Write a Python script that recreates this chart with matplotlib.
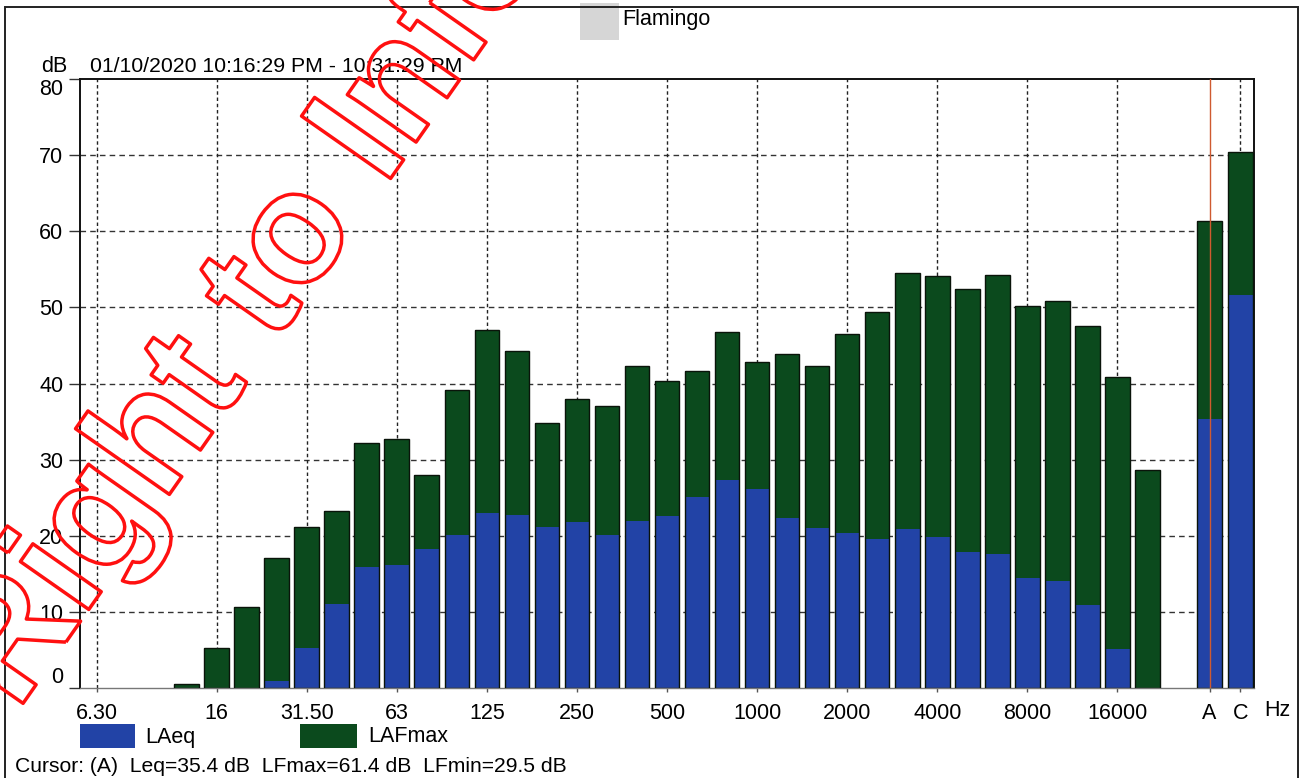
import numpy as np
import matplotlib
matplotlib.use("Agg")
import matplotlib.pyplot as plt
import matplotlib.patheffects as pe
from matplotlib.patches import Rectangle

plt.rcParams['font.family'] = ['Liberation Sans', 'DejaVu Sans']

# ---- data ----
bands = ["6.3", "8", "10", "12.5", "16", "20", "25", "31.5", "40", "50", "63", "80",
         "100", "125", "160", "200", "250", "315", "400", "500", "630", "800", "1000",
         "1250", "1600", "2000", "2500", "3150", "4000", "5000", "6300", "8000",
         "10000", "12500", "16000", "20000"]
lafmax = [np.nan, np.nan, np.nan, 0.5, 5.3, 10.7, 17.1, 21.2, 23.2, 32.2, 32.7, 28.0,
          39.1, 47.0, 44.3, 34.8, 38.0, 37.0, 42.3, 40.3, 41.7, 46.7, 42.8,
          43.9, 42.3, 46.5, 49.4, 54.5, 54.1, 52.4, 54.3, 50.2,
          50.9, 47.6, 40.9, 28.6]
laeq = [np.nan, np.nan, np.nan, np.nan, np.nan, np.nan, 0.9, 5.3, 11.0, 15.9, 16.1, 18.2,
        20.1, 23.0, 22.7, 21.1, 21.8, 20.1, 22.0, 22.6, 25.1, 27.3, 26.2,
        22.3, 21.0, 20.3, 19.6, 20.9, 19.8, 17.9, 17.6, 14.4,
        14.1, 10.9, 5.1, np.nan]
overall_labels = ["A", "C"]
overall_lafmax = [61.4, 70.4]
overall_laeq = [35.4, 51.6]
tick_labels = ["6.30", "16", "31.50", "63", "125", "250", "500", "1000", "2000",
               "4000", "8000", "16000"]
tick_bands = ["6.3", "16", "31.5", "63", "125", "250", "500", "1000", "2000",
              "4000", "8000", "16000"]
title_text = "01/10/2020 10:16:29 PM - 10:31:29 PM"
cursor_text = "Cursor: (A)  Leq=35.4 dB  LFmax=61.4 dB  LFmin=29.5 dB"
stamp_text = "Right to Information"

BLUE = "#2243a6"
GREEN = "#0b4a1d"
EDGE = "#0a140a"

W, H = 1306, 778
fig = plt.figure(figsize=(W / 100, H / 100), dpi=100)

def fx(px):
    return px / W

def fy(py):
    return 1 - py / H

ax = fig.add_axes([fx(80), fy(688), fx(1254) - fx(80), fy(79) - fy(688)])

xpos = np.array(list(np.arange(len(bands), dtype=float)) + [37.07, 38.1])
mx = np.array(lafmax + overall_lafmax, dtype=float)
eq = np.array(laeq + overall_laeq, dtype=float)
width = 0.82

eq_base = np.where(np.isnan(eq), 0, eq)
ax.bar(xpos, eq, width=width, color=BLUE, linewidth=0, zorder=2)
ax.bar(xpos, mx - eq_base, bottom=eq_base, width=width, color=GREEN, linewidth=0, zorder=2)
ax.bar(xpos, mx, width=width, facecolor='none', edgecolor=EDGE, linewidth=1.0, zorder=3)

ax.set_xlim(-0.55, 38.55)
ax.set_ylim(0, 80)

# grid
for v in range(10, 80, 10):
    ax.axhline(v, color='#333333', lw=1.0, ls=(0, (4, 3)), zorder=1)
grid_x = [bands.index(b) for b in tick_bands] + [xpos[-1]]
for gx in grid_x:
    ax.axvline(gx, color='#222222', lw=1.0, ls=(0, (2.5, 2)), zorder=1)

# cursor line at A
ax.axvline(xpos[-2], color='#cf5a30', lw=1.0, zorder=4)

# ticks
ax.set_yticks(range(0, 81, 10))
ax.set_yticklabels([str(v) for v in range(0, 81, 10)], fontsize=15.5)
ylabs = ax.get_yticklabels()
ylabs[0].set_va('bottom')
ylabs[-1].set_va('top')
ax.tick_params(axis='y', length=8, width=1, color='#333333', pad=4)

xt = [bands.index(b) for b in tick_bands] + list(xpos[-2:])
ax.set_xticks(xt)
ax.set_xticklabels(tick_labels + overall_labels, fontsize=15.5)
ax.tick_params(axis='x', length=3, width=1, color='#555555', pad=8)

for s in ['left', 'top', 'right']:
    ax.spines[s].set_color('#111111')
    ax.spines[s].set_linewidth(1.4)
ax.spines['bottom'].set_color('#777777')
ax.spines['bottom'].set_linewidth(1.0)

# texts
fig.text(fx(1277), fy(710), "Hz", fontsize=15.5, ha='center', va='center')
fig.text(fx(54), fy(66), "dB", fontsize=15.5, ha='center', va='center')
fig.text(fx(90), fy(66), title_text, fontsize=15.3, ha='left', va='center')

# top series box
fig.patches.append(Rectangle((fx(580), fy(40)), fx(619) - fx(580), fy(3) - fy(40),
                             transform=fig.transFigure, facecolor='#d6d6d6', edgecolor='none'))
fig.text(fx(622), fy(20), "Flamingo", fontsize=15.5, ha='left', va='center')

# legend
fig.patches.append(Rectangle((fx(80), fy(748)), fx(135) - fx(80), fy(724) - fy(748),
                             transform=fig.transFigure, facecolor=BLUE, edgecolor='none'))
fig.text(fx(145), fy(737), "LAeq", fontsize=15.5, ha='left', va='center')
fig.patches.append(Rectangle((fx(300), fy(748)), fx(357) - fx(300), fy(724) - fy(748),
                             transform=fig.transFigure, facecolor=GREEN, edgecolor='none'))
fig.text(fx(368), fy(737), "LAFmax", fontsize=15.5, ha='left', va='center')

fig.text(fx(15), fy(766), cursor_text, fontsize=15.2, ha='left', va='center')

# outer frame
fig.patches.append(Rectangle((fx(5), fy(800)), fx(1298) - fx(5), fy(7) - fy(800),
                             transform=fig.transFigure, facecolor='none',
                             edgecolor='#222222', linewidth=1.4))

# watermark stamp (outlined red lettering)
fig.text(fx(17), fy(712), stamp_text, fontsize=113.8, fontweight='bold',
         rotation=55, rotation_mode='anchor', ha='left', va='baseline',
         color='none',
         path_effects=[pe.Stroke(linewidth=2.5, foreground='#ff1010')], zorder=10)

fig.savefig("out.png", dpi=100)
